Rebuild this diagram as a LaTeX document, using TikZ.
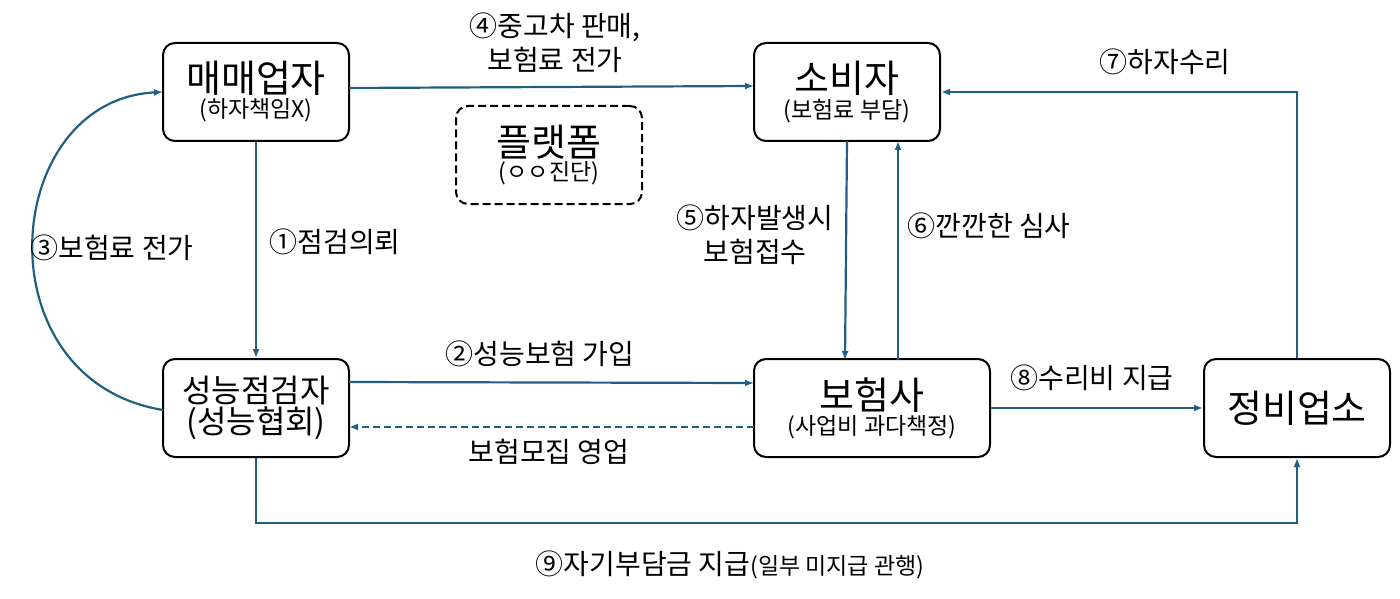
\documentclass[tikz,border=0pt]{standalone}
\usepackage{fontspec}
\setmainfont{Noto Sans CJK KR}
\usetikzlibrary{arrows.meta}
\definecolor{ln}{HTML}{1F5F82}
\newcommand{\bigt}[1]{{\fontsize{38}{46}\selectfont #1}}
\newcommand{\smt}[1]{{\fontsize{23}{28}\selectfont #1}}
\begin{document}
\begin{tikzpicture}[x=1pt,y=-1pt,
 box/.style={draw=black,line width=2pt,rounded corners=12pt,minimum width=186pt,minimum height=98pt,align=center,inner sep=0pt},
 ar/.style={draw=ln,line width=2.2pt,-{Latex[length=9pt,width=7pt]}},
 lb/.style={font=\fontsize{28}{34}\selectfont,align=center}]
\useasboundingbox (0,0) rectangle (1400,599);
\node[box] (seller) at (256,92) {\bigt{매매업자}\\[2pt]\smt{(하자책임X)}};
\node[box] (cons) at (847,92) {\bigt{소비자}\\[2pt]\smt{(보험료 부담)}};
\node[box,dash pattern=on 8pt off 4pt] (plat) at (549,155) {\bigt{플랫폼}\\[2pt]\smt{(ㅇㅇ진단)}};
\node[box] (insp) at (256,408) {{\fontsize{32}{42}\selectfont 성능점검자}\\{\fontsize{32}{42}\selectfont (성능협회)}};
\node[box,minimum width=236pt] (ins) at (872,408) {\bigt{보험사}\\[2pt]\smt{(사업비 과다책정)}};
\node[box] (shop) at (1297,408) {\bigt{정비업소}};
\coordinate (s1) at (349,88); \coordinate (c1) at (754,86);
\draw[ar] (s1) -- (c1);
\node[lb] (l4) at (555,43) {④중고차 판매,\\보험료 전가};
\draw[ar] (seller.south) -- (insp.north);
\node[lb,anchor=west] (l1) at (266,242) {①점검의뢰};
\coordinate (i0) at (163,410); \coordinate (s0) at (163,92);
\draw[ar] (i0) .. controls (-20,380) and (0,100) .. (s0);
\node[lb] (l3) at (112,248) {③보험료 전가};
\coordinate (i2) at (349,382); \coordinate (n2) at (754,383);
\draw[ar] (i2) -- (n2);
\node[lb] (l2) at (540,354) {②성능보험 가입};
\coordinate (n3) at (754,427); \coordinate (i3) at (349,427);
\draw[ar,dash pattern=on 7pt off 4pt] (n3) -- (i3);
\node[lb] (lm) at (549,452) {보험모집 영업};
\coordinate (c5) at (847,141); \coordinate (n5) at (845,360);
\draw[ar] (c5) -- (n5);
\node[lb,anchor=east] (l5) at (837,235) {⑤하자발생시\\보험접수};
\coordinate (n6) at (898,360); \coordinate (c6) at (898,141);
\draw[ar] (n6) -- (c6);
\node[lb,anchor=west] (l6) at (904,226) {⑥깐깐한 심사};
\draw[ar] (shop.north) |- (cons.east);
\node[lb] (l7) at (1165,62) {⑦하자수리};
\draw[ar] (ins.east) -- (shop.west);
\node[lb] (l8) at (1092,378) {⑧수리비 지급};
\draw[ar] (insp.south) -- ++(0,65) -| (shop.south);
\node[lb] (l9) at (730,565) {⑨자기부담금 지급{\fontsize{23}{28}\selectfont (일부 미지급 관행)}};
\end{tikzpicture}
\end{document}
